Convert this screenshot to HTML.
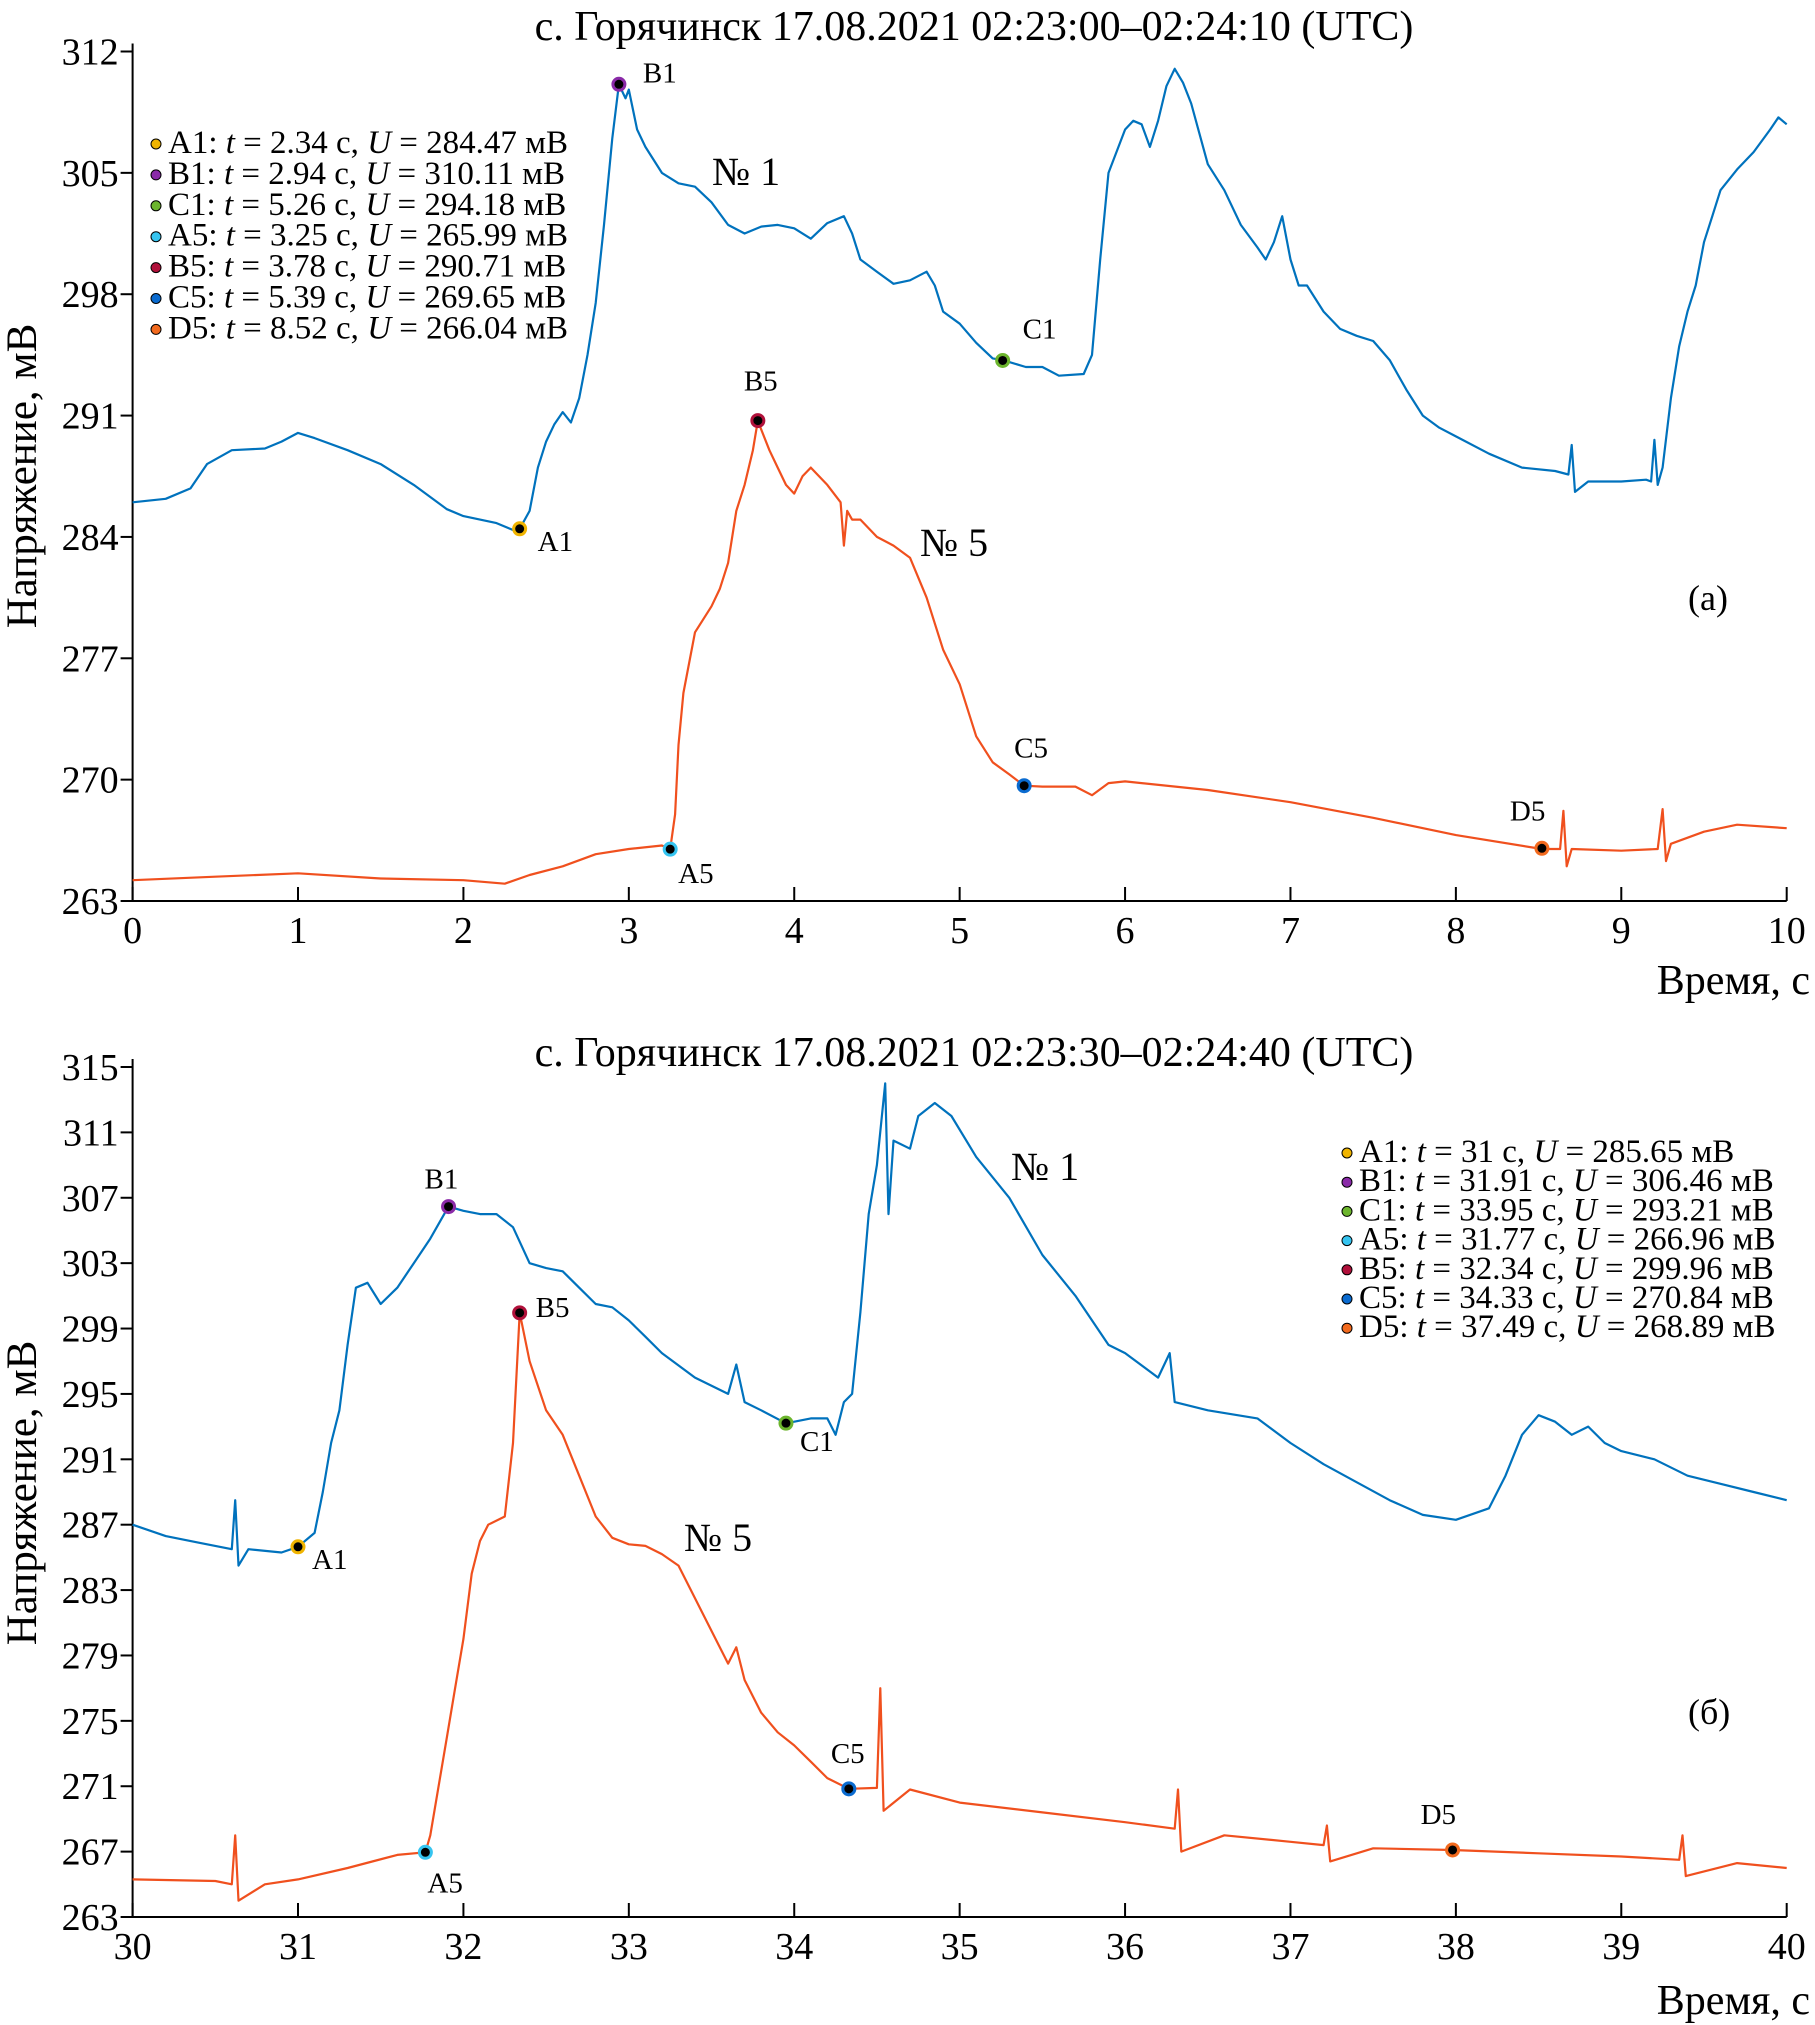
<!DOCTYPE html>
<html><head><meta charset="utf-8">
<style>
body{margin:0;background:#fff;}
svg{display:block;}
svg text{font-family:"Liberation Serif","DejaVu Serif",serif;}
</style></head>
<body>
<svg id="chart" width="1815" height="2025" viewBox="0 0 1815 2025" xmlns="http://www.w3.org/2000/svg">
<text x="974" y="40" font-size="42" text-anchor="middle">с. Горячинск 17.08.2021 02:23:00–02:24:10 (UTC)</text>
<text x="974" y="1066" font-size="42" text-anchor="middle">с. Горячинск 17.08.2021 02:23:30–02:24:40 (UTC)</text>
<text transform="translate(36,476) rotate(-90)" font-size="43" text-anchor="middle">Напряжение, мВ</text>
<text transform="translate(36,1493) rotate(-90)" font-size="43" text-anchor="middle">Напряжение, мВ</text>
<text x="1810" y="994" font-size="42" text-anchor="end">Время, с</text>
<text x="1810" y="2014" font-size="42" text-anchor="end">Время, с</text>
<g id="g"></g>
</svg>
<script>
// Panel (a) data
const aBlueT = [0,0.2,0.35,0.45,0.6,0.8,0.9,1.0,1.1,1.3,1.5,1.7,1.9,2.0,2.2,2.3,2.34,2.4,2.45,2.5,2.55,2.6,2.65,2.7,2.75,2.8,2.85,2.9,2.94,2.98,3.0,3.05,3.1,3.2,3.3,3.4,3.5,3.6,3.7,3.8,3.9,4.0,4.1,4.2,4.3,4.35,4.4,4.5,4.6,4.7,4.8,4.85,4.9,5.0,5.1,5.2,5.26,5.4,5.5,5.6,5.75,5.8,5.85,5.9,6.0,6.05,6.1,6.15,6.2,6.25,6.3,6.35,6.4,6.5,6.6,6.7,6.8,6.85,6.9,6.95,7.0,7.05,7.1,7.2,7.3,7.4,7.5,7.6,7.7,7.8,7.9,8.0,8.2,8.4,8.6,8.68,8.7,8.72,8.8,9.0,9.15,9.18,9.2,9.22,9.25,9.3,9.35,9.4,9.45,9.5,9.55,9.6,9.7,9.8,9.9,9.95,10.0];
const aBlueU = [286.0,286.2,286.8,288.2,289.0,289.1,289.5,290.0,289.7,289.0,288.2,287.0,285.6,285.2,284.8,284.4,284.47,285.5,288,289.5,290.5,291.2,290.6,292,294.5,297.5,302,307,310.1,309.3,309.8,307.5,306.5,305.0,304.4,304.2,303.3,302.0,301.5,301.9,302.0,301.8,301.2,302.1,302.5,301.5,300.0,299.3,298.6,298.8,299.3,298.5,297.0,296.3,295.2,294.3,294.2,293.8,293.8,293.3,293.4,294.5,300,305,307.5,308,307.8,306.5,308,310,311.0,310.2,309,305.5,304,302,300.7,300,301,302.5,300,298.5,298.5,297,296,295.6,295.3,294.2,292.5,291,290.3,289.8,288.8,288.0,287.8,287.6,289.3,286.6,287.2,287.2,287.3,287.2,289.6,287.0,288,292,295,297,298.5,301,302.5,304,305.2,306.2,307.5,308.2,307.8,307.0];
const aRedT = [0,0.5,1.0,1.5,2.0,2.25,2.4,2.6,2.8,3.0,3.2,3.25,3.28,3.3,3.33,3.4,3.5,3.55,3.6,3.65,3.7,3.75,3.78,3.85,3.9,3.95,4.0,4.05,4.1,4.2,4.28,4.3,4.32,4.35,4.4,4.5,4.6,4.7,4.8,4.9,5.0,5.1,5.2,5.3,5.39,5.5,5.7,5.8,5.9,6.0,6.5,7.0,7.5,8.0,8.52,8.63,8.65,8.67,8.7,9.0,9.22,9.25,9.27,9.3,9.5,9.7,10];
const aRedU = [264.2,264.4,264.6,264.3,264.2,264.0,264.5,265.0,265.7,266.0,266.2,266.0,268,272,275,278.5,280,281,282.5,285.5,287,289,290.7,289,288,287,286.5,287.5,288,287,286,283.5,285.5,285,285,284,283.5,282.8,280.5,277.5,275.5,272.5,271,270.3,269.65,269.6,269.6,269.1,269.8,269.9,269.4,268.7,267.8,266.8,266.0,266.0,268.2,265.0,266.0,265.9,266.0,268.3,265.3,266.3,267.0,267.4,267.2];
const aMarkT = [2.34,2.94,5.26,3.25,3.78,5.39,8.52];
const aMarkU = [284.47,310.11,294.18,265.99,290.71,269.65,266.04];
const aTicksX = [0,1,2,3,4,5,6,7,8,9,10];
const aTicksY = [263,270,277,284,291,298,305,312];
// Panel (b) data
const bBlueT = [30,30.2,30.4,30.6,30.62,30.64,30.7,30.9,31.0,31.1,31.15,31.2,31.25,31.3,31.35,31.42,31.5,31.6,31.7,31.8,31.91,32.0,32.1,32.2,32.3,32.4,32.5,32.6,32.7,32.8,32.9,33.0,33.1,33.2,33.4,33.6,33.65,33.7,33.8,33.95,34.1,34.2,34.25,34.3,34.35,34.4,34.45,34.5,34.55,34.57,34.6,34.7,34.75,34.85,34.95,35.1,35.3,35.5,35.7,35.9,36.0,36.2,36.27,36.3,36.5,36.8,37.0,37.2,37.4,37.6,37.8,38.0,38.2,38.3,38.4,38.5,38.6,38.7,38.8,38.9,39.0,39.2,39.4,39.6,39.8,40];
const bBlueU = [287.0,286.3,285.9,285.5,288.5,284.5,285.5,285.3,285.65,286.5,289,292,294,298,301.5,301.8,300.5,301.5,303,304.5,306.46,306.2,306.0,306.0,305.2,303.0,302.7,302.5,301.5,300.5,300.3,299.5,298.5,297.5,296,295,296.8,294.5,294,293.2,293.5,293.5,292.5,294.5,295.0,300,306,309,314,306,310.5,310,312,312.8,312,309.5,307.0,303.5,301,298.0,297.5,296.0,297.5,294.5,294.0,293.5,292.0,290.7,289.6,288.5,287.6,287.3,288.0,290,292.5,293.7,293.3,292.5,293,292.0,291.5,291,290,289.5,289,288.5];
const bRedT = [30,30.5,30.6,30.62,30.64,30.8,31.0,31.3,31.6,31.77,31.8,31.85,31.9,31.95,32.0,32.05,32.1,32.15,32.25,32.3,32.34,32.4,32.5,32.6,32.7,32.8,32.9,33.0,33.1,33.2,33.3,33.4,33.5,33.6,33.65,33.7,33.8,33.9,34.0,34.1,34.2,34.33,34.5,34.52,34.54,34.7,35.0,35.5,36.0,36.3,36.32,36.34,36.6,37.0,37.2,37.22,37.24,37.5,37.98,38.5,39.0,39.35,39.37,39.39,39.7,40];
const bRedU = [265.3,265.2,265.0,268,264,265,265.3,266.0,266.8,266.96,268,271,274,277,280,284,286,287,287.5,292,299.96,297,294,292.5,290,287.5,286.2,285.8,285.7,285.2,284.5,282.5,280.5,278.5,279.5,277.5,275.5,274.3,273.5,272.5,271.5,270.84,270.9,277,269.5,270.8,270.0,269.4,268.8,268.4,270.8,267,268,267.6,267.4,268.6,266.4,267.2,267.1,266.9,266.7,266.5,268,265.5,266.3,266.0];
const bMarkT = [31.0,31.91,33.95,31.77,32.34,34.33,37.98];
const bMarkU = [285.65,306.46,293.21,266.96,299.96,270.84,267.1];
const bTicksX = [30,31,32,33,34,35,36,37,38,39,40];
const bTicksY = [263,267,271,275,279,283,287,291,295,299,303,307,311,315];
const markNames = ['A1','B1','C1','A5','B5','C5','D5'];
const markColors = ['#f0b400','#8a2aa8','#6cb52d','#35c4f0','#b0103a','#0a6bd0','#f26a1e'];
const aLegend = ['A1: <i>t</i> = 2.34 с, <i>U</i> = 284.47 мВ','B1: <i>t</i> = 2.94 с, <i>U</i> = 310.11 мВ','C1: <i>t</i> = 5.26 с, <i>U</i> = 294.18 мВ','A5: <i>t</i> = 3.25 с, <i>U</i> = 265.99 мВ','B5: <i>t</i> = 3.78 с, <i>U</i> = 290.71 мВ','C5: <i>t</i> = 5.39 с, <i>U</i> = 269.65 мВ','D5: <i>t</i> = 8.52 с, <i>U</i> = 266.04 мВ'];
const bLegend = ['A1: <i>t</i> = 31 с, <i>U</i> = 285.65 мВ','B1: <i>t</i> = 31.91 с, <i>U</i> = 306.46 мВ','C1: <i>t</i> = 33.95 с, <i>U</i> = 293.21 мВ','A5: <i>t</i> = 31.77 с, <i>U</i> = 266.96 мВ','B5: <i>t</i> = 32.34 с, <i>U</i> = 299.96 мВ','C5: <i>t</i> = 34.33 с, <i>U</i> = 270.84 мВ','D5: <i>t</i> = 37.49 с, <i>U</i> = 268.89 мВ'];
const aLabOff = [[18,22],[24,-2],[20,-22],[8,34],[-14,-30],[-10,-28],[-32,-28]];
const bLabOff = [[14,22],[-24,-18],[14,28],[2,40],[16,4],[-18,-26],[-32,-26]];

const NS='http://www.w3.org/2000/svg';
const root=document.getElementById('g');
function el(tag,attrs,parent){const e=document.createElementNS(NS,tag);for(const k in attrs)e.setAttribute(k,attrs[k]);(parent||root).appendChild(e);return e;}

function drawPanel(p){
  const xS=t=>p.x0+(t-p.t0)/(p.t1-p.t0)*(p.x1-p.x0);
  const yS=u=>p.y0-(u-p.u0)/(p.u1-p.u0)*(p.y0-p.y1);
  const g=el('g',{});
  
  
  const ax=el('path',{d:`M${p.x0},${p.y1-8}V${p.y0}H${p.x1}`,fill:'none',stroke:'#000','stroke-width':2},g);
  
  
  p.tx.forEach(t=>{
    const x=xS(t);
    const tk=el('line',{x1:x,x2:x,y1:p.y0,y2:p.y0-14,stroke:'#000','stroke-width':2},g);
    
    
    const tl=el('text',{x:x,y:p.y0+42,'font-size':38,'text-anchor':'middle'},g);
    tl.textContent=t;
    
    
  });
  p.ty.forEach(u=>{
    const y=yS(u);
    const tk=el('line',{x1:p.x0,x2:p.x0-12,y1:y,y2:y,stroke:'#000','stroke-width':2},g);
    
    
    const tl=el('text',{x:p.x0-14,y:y+13,'font-size':38,'text-anchor':'end'},g);
    tl.textContent=u;
    
    
  });
  const line=(T,U,c,name)=>{
    const d=T.map((t,i)=>(i?'L':'M')+xS(t).toFixed(1)+','+yS(U[i]).toFixed(1)).join('');
    const l=el('path',{d:d,fill:'none',stroke:c,'stroke-width':2.2,'stroke-linejoin':'round'},g);
    
    
  };
  line(p.bt,p.bu,'#0072BD','series-no1-line');
  line(p.rt,p.ru,'#F0501E','series-no5-line');
  p.mt.forEach((t,i)=>{
    const x=xS(t),y=yS(p.mu[i]);
    const m=el('circle',{cx:x,cy:y,r:6,fill:'#000',stroke:markColors[i],'stroke-width':3},g);
    
    
    const lb=el('text',{x:x+p.off[i][0],y:y+p.off[i][1],'font-size':29},g);
    lb.textContent=markNames[i];
    
    
  });
  p.leg.forEach((s,i)=>{
    const y=p.ly+i*p.ls;
    const d=el('circle',{cx:p.lx,cy:y-9,r:5,fill:markColors[i],stroke:'#000','stroke-width':1},g);
    
    
    const t=el('text',{x:p.lx+12,y:y,'font-size':p.lf},g);
    t.innerHTML=s.replace(/<i>/g,'<tspan font-style="italic">').replace(/<\/i>/g,'</tspan>');
    
    
  });
  p.notes.forEach(n=>{
    const t=el('text',{x:n[0],y:n[1],'font-size':n[3]},g);
    t.textContent=n[2];
    
    
  });
}
drawPanel({id:'a',x0:132.6,x1:1786.7,y0:901,y1:51.5,t0:0,t1:10,u0:263,u1:312,tx:aTicksX,ty:aTicksY,
  bt:aBlueT,bu:aBlueU,rt:aRedT,ru:aRedU,mt:aMarkT,mu:aMarkU,off:aLabOff,leg:aLegend,lx:156,ly:153,ls:30.9,lf:33,
  notes:[[712,185,'№ 1',40,'series-label-no1'],[920,556,'№ 5',40,'series-label-no5'],[1688,610,'(a)',36,'panel-label-a']]});
drawPanel({id:'b',x0:132.6,x1:1786.7,y0:1917,y1:1067,t0:30,t1:40,u0:263,u1:315,tx:bTicksX,ty:bTicksY,
  bt:bBlueT,bu:bBlueU,rt:bRedT,ru:bRedU,mt:bMarkT,mu:bMarkU,off:bLabOff,leg:bLegend,lx:1347,ly:1162,ls:29.2,lf:33,
  notes:[[1011,1180,'№ 1',40,'series-label-no1'],[684,1551,'№ 5',40,'series-label-no5'],[1688,1724,'(б)',36,'panel-label-b']]});
</script>
</body></html>
